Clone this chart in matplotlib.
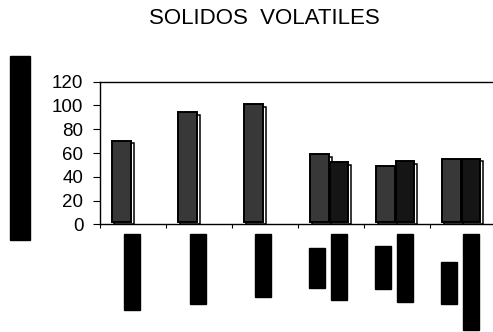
import matplotlib
matplotlib.use("Agg")
import matplotlib.pyplot as plt
import matplotlib.transforms as mtransforms
from matplotlib.patches import Rectangle
import numpy as np

plt.rcParams['font.family'] = ['Liberation Sans', 'DejaVu Sans']

# data
categories = ['A', 'B', 'C', 'D', 'E', 'F']
serie1 = [68, 92, 99, 57, 47, 53]
serie2 = [np.nan, np.nan, np.nan, 50, 51, 53]
yticks = [0, 20, 40, 60, 80, 100, 120]

# redacted label boxes, pixels (x0, y0, x1, y1) from top-left
boxes = [(10, 56, 30, 240),
         (124, 234, 140, 310), (190, 234, 206, 304), (255, 234, 271, 297),
         (309, 248, 325, 288), (331, 234, 347, 300),
         (375, 246, 391, 289), (397, 234, 413, 302),
         (441, 262, 457, 304), (463, 234, 479, 330)]

W, H = 493, 332
fig = plt.figure(figsize=(W / 100, H / 100), dpi=100)
ax = fig.add_axes([100 / W, (H - 224.3) / H, 396 / W, (224.3 - 81.7) / H])

x = np.arange(len(categories))
off = mtransforms.offset_copy(ax.transData, fig, x=-1.5, y=2.5, units='dots')

for vals, dx, col in [(serie1, -0.29, '#383838'), (serie2, 0.0, '#151515')]:
    ax.bar(x + dx, vals, 0.31, align='edge', color='white', edgecolor='black',
           linewidth=1.1, zorder=2)
    front = ax.bar(x + dx, vals, 0.275, align='edge', color=col, edgecolor='black',
                   linewidth=1.4, zorder=3)
    for p in front:
        p.set_transform(off)

ax.set_xlim(-0.5, len(categories) - 0.5)
ax.set_ylim(0, 120)
ax.set_yticks(yticks)
ax.set_xticks(np.arange(len(categories) + 1) - 0.5)
ax.set_xticklabels([])
ax.tick_params(axis='y', direction='out', length=5, width=0.8, pad=7, labelsize=13.5)
ax.tick_params(axis='x', direction='out', length=3, width=0.8)
ax.spines['right'].set_visible(False)
for s in ['left', 'top', 'bottom']:
    ax.spines[s].set_linewidth(1.0)

fig.text(264 / W, (H - 19) / H, 'SOLIDOS  VOLATILES', ha='center', va='center', fontsize=16)

for x0, y0, x1, y1 in boxes:
    fig.patches.append(Rectangle((x0 / W, (H - y1) / H), (x1 - x0) / W, (y1 - y0) / H,
                                 transform=fig.transFigure, color='black', zorder=5))

fig.savefig('out.png', dpi=100)
